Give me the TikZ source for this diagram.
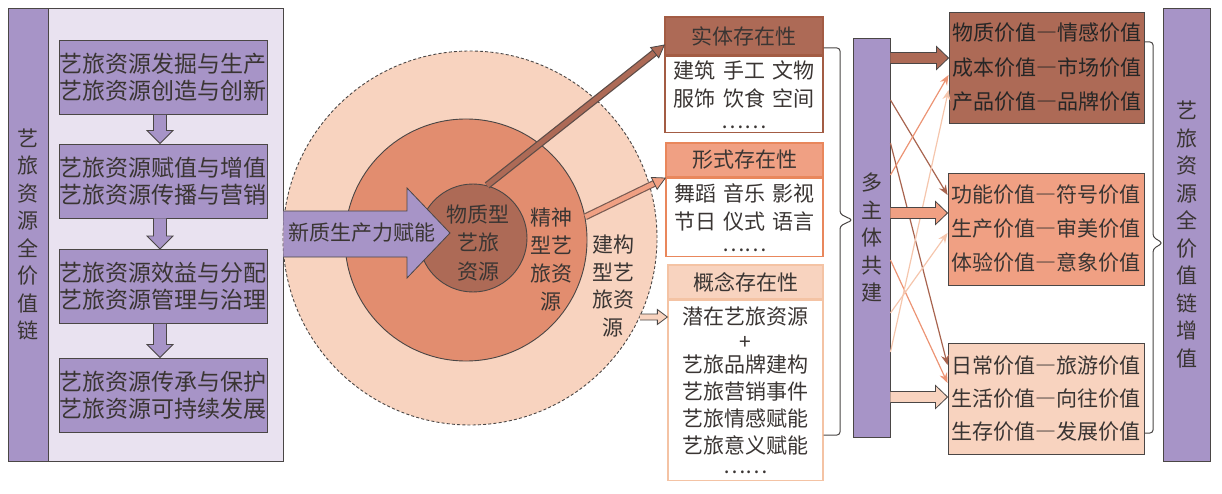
\documentclass[tikz,border=0pt]{standalone}
\usepackage{fontspec}
\setmainfont{Noto Sans CJK SC}
\usetikzlibrary{calc,arrows.meta,positioning}

\definecolor{ink}{HTML}{3A3533}
\definecolor{edge}{HTML}{4A4645}
\definecolor{lavbg}{HTML}{E9E2F0}
\definecolor{purp}{HTML}{A794C7}
\definecolor{brn}{HTML}{AD6A56}
\definecolor{sal}{HTML}{E28D6F}
\definecolor{salbox}{HTML}{F0A083}
\definecolor{pch}{HTML}{F8D3BF}
\definecolor{brnline}{HTML}{A8644F}
\definecolor{salline}{HTML}{EC9474}
\definecolor{pchline}{HTML}{F5C6AD}
\definecolor{brnedge}{HTML}{A35C44}
\definecolor{saledge}{HTML}{E9875C}
\definecolor{pchedge}{HTML}{F4C3A4}

\begin{document}
\begin{tikzpicture}[x=1pt,y=-1pt,
    txt/.style={text=ink,font=\fontsize{21}{27.5}\selectfont,align=center,inner sep=0pt},
    bx/.style={draw=edge,line width=0.9pt},
    blk/.style={draw=edge,line width=0.8pt,line join=miter},
    crossarr/.style={line width=1.2pt,-{Stealth[length=10pt,width=8pt]}},
    brace/.style={draw=edge,line width=1pt,rounded corners=3pt}]
    \useasboundingbox (0,0) rectangle (1222,494);

    % chain of resources
    \node[bx,fill=lavbg,minimum width=275pt,minimum height=453pt] (chain) at (145.5,234.5) {};
    \node[bx,fill=purp,minimum width=40pt,minimum height=453pt,anchor=north west,txt] (chainlab) at (chain.north west) {艺\\旅\\资\\源\\全\\价\\值\\链};
    \node[bx,fill=purp,minimum width=208pt,minimum height=74pt,txt,font=\fontsize{23}{27}\selectfont] (s1) at (163,77.5) {艺旅资源发掘与生产\\艺旅资源创造与创新};
    \node[bx,fill=purp,minimum width=208pt,minimum height=74pt,txt,font=\fontsize{23}{27}\selectfont] (s2) at (163,181) {艺旅资源赋值与增值\\艺旅资源传播与营销};
    \node[bx,fill=purp,minimum width=208pt,minimum height=74pt,txt,font=\fontsize{23}{27}\selectfont] (s3) at (163,286.5) {艺旅资源效益与分配\\艺旅资源管理与治理};
    \node[bx,fill=purp,minimum width=208pt,minimum height=74pt,txt,font=\fontsize{23}{27}\selectfont] (s4) at (163,395) {艺旅资源传承与保护\\艺旅资源可持续发展};
    \foreach \i/\j in {1/2,2/3,3/4}
        \draw[blk,fill=purp] ($(s\i.south)+(-9.5,0)$) -- ($(s\j.north)+(-9.5,-13)$) -- ($(s\j.north)+(-16,-13)$) -- ($(s\j.north)+(-3,0)$)
            -- ($(s\j.north)+(10,-13)$) -- ($(s\j.north)+(3.5,-13)$) -- ($(s\i.south)+(3.5,0)$);

    % circles
    \node[circle,draw=edge,line width=0.9pt,dash pattern=on 3pt off 2.2pt,fill=pch,minimum size=374pt,inner sep=0pt] (outer) at (470,238) {};
    \node[circle,draw=edge,line width=0.9pt,fill=sal,minimum size=242pt,inner sep=0pt] (mid) at (466,240) {};
    \node[circle,draw=edge,line width=0.9pt,fill=brn,minimum size=108pt,inner sep=0pt] (inner) at (473,238) {};
    \draw[blk,fill=purp] (chain.east |- 0,211) -- (407,211) -- (407,188) -- (450,233) -- (407,278) -- (407,257) -- (chain.east |- 0,257);
    \node[txt] (npf) at (362,233) {新质生产力赋能};
    \node[txt,font=\fontsize{21}{28.5}\selectfont] (lbl1) at (478,243) {物质型\\艺旅\\资源};
    \node[txt,font=\fontsize{21}{28}\selectfont] (lbl2) at (551,260) {精神\\型艺\\旅资\\源};
    \node[txt,font=\fontsize{21}{27.5}\selectfont] (lbl3) at (613,286) {建构\\型艺\\旅资\\源};

    % existence boxes
    \node[bx,draw=brnedge,line width=1.3pt,fill=brn,minimum width=158pt,minimum height=38pt,txt] (h1) at (744,36) {实体存在性};
    \node[bx,draw=brnedge,line width=1.3pt,fill=white,minimum width=158pt,minimum height=76pt,txt,font=\fontsize{21}{28}\selectfont,below=0pt of h1] (b1) {建筑\hspace{0.35em}手工\hspace{0.35em}文物\\服饰\hspace{0.35em}饮食\hspace{0.35em}空间\\[-6pt]……};
    \node[bx,draw=saledge,line width=1.3pt,fill=salbox,minimum width=157pt,minimum height=34pt,txt] (h2) at (744.5,160) {形式存在性};
    \node[bx,draw=saledge,line width=1.3pt,fill=white,minimum width=157pt,minimum height=78pt,txt,font=\fontsize{21}{28}\selectfont,below=0pt of h2] (b2) {舞蹈\hspace{0.35em}音乐\hspace{0.35em}影视\\节日\hspace{0.35em}仪式\hspace{0.35em}语言\\[-6pt]……};
    \node[bx,draw=pchedge,line width=1.3pt,fill=pch,minimum width=155pt,minimum height=34pt,txt] (h3) at (745.5,282) {概念存在性};
    \node[bx,draw=pchedge,line width=1.3pt,fill=white,minimum width=155pt,minimum height=180pt,txt,font=\fontsize{21}{27}\selectfont,below=0pt of h3] (b3) {潜在艺旅资源\\[-2pt]+\\[-4pt]艺旅品牌建构\\艺旅营销事件\\艺旅情感赋能\\艺旅意义赋能\\[-7pt]……};

    % from circles to boxes
    \coordinate (ta) at (h1.west |- 0,45);
    \draw[line width=7.5pt,draw=edge!80!brn,shorten >=10pt] (inner.75) -- (ta);
    \draw[line width=5pt,draw=brn,shorten >=9pt] (inner.75) -- (ta);
    \draw[blk,fill=brn] (ta) -- ($(ta)!14pt!28:(inner.75)$) -- ($(ta)!14pt!-28:(inner.75)$) -- cycle;
    \coordinate (tb) at (h2.west |- 0,178);
    \draw[line width=7pt,draw=edge!70!sal,shorten >=10pt] (mid.11) -- (tb);
    \draw[line width=4.6pt,draw=salbox,shorten >=9pt] (mid.11) -- (tb);
    \draw[blk,fill=salbox] (tb) -- ($(tb)!14pt!28:(mid.11)$) -- ($(tb)!14pt!-28:(mid.11)$) -- cycle;
    \coordinate (tc) at (b3.west |- 0,317);
    \draw[blk,fill=pch] (outer.-25 |- 0,314) -- ($(tc)+(-10,-3)$) -- ($(tc)+(-10,-7.5)$) -- (tc) -- ($(tc)+(-10,7.5)$) -- ($(tc)+(-10,3)$) -- (outer.-25 |- 0,320);

    % co-construction
    \node[bx,fill=purp,minimum width=37pt,minimum height=399pt,txt] (multi) at (871.5,237.5) {多\\主\\体\\共\\建};
    \draw[brace] (b1.north east |- 0,48) -| (840,214) -- (multi.west |- 0,220) -- (840,226) |- (b3.east |- 0,435);

    % values
    \node[bx,fill=brn,minimum width=195pt,minimum height=111pt,txt,text=black!85,font=\fontsize{21}{34.5}\selectfont] (va) at (1046.5,67.5) {物质价值―情感价值\\成本价值―市场价值\\产品价值―品牌价值};
    \node[bx,fill=salbox,minimum width=196pt,minimum height=112pt,txt,font=\fontsize{21}{34}\selectfont] (vb) at (1046,229) {功能价值―符号价值\\生产价值―审美价值\\体验价值―意象价值};
    \node[bx,fill=pch,minimum width=196pt,minimum height=111pt,txt,font=\fontsize{21}{33}\selectfont] (vc) at (1046,398.5) {日常价值―旅游价值\\生活价值―向往价值\\生存价值―发展价值};
    \foreach \c/\ya/\v/\yb in {brnline/100/vb/195, brnline/143/vc/365, salline/175/va/75, salline/260/vc/383, pchline/313/vb/233, pchline/352/va/90}
        \draw[crossarr,draw=\c] (multi.east |- 0,\ya) -- (\v.west |- 0,\yb);
    \foreach \v/\yy/\c in {va/58/brn, vb/213/salbox, vc/397/pch} {
        \coordinate (t) at (\v.west |- 0,\yy);
        \draw[blk,fill=\c] ($(multi.east |- t)+(0,-5.5)$) -- ($(t)+(-12,-5.5)$) -- ($(t)+(-12,-11.5)$) -- (t)
            -- ($(t)+(-12,11.5)$) -- ($(t)+(-12,5.5)$) -- ($(multi.east |- t)+(0,5.5)$);
    }

    \node[bx,fill=purp,minimum width=47pt,minimum height=453pt,txt] (total) at (1186.5,234.5) {艺\\旅\\资\\源\\全\\价\\值\\链\\增\\值};
    \draw[brace] (va.east |- 0,42) -| (1153,237) -- (total.west |- 0,243) -- (1153,249) |- (vc.east |- 0,433);
\end{tikzpicture}
\end{document}
